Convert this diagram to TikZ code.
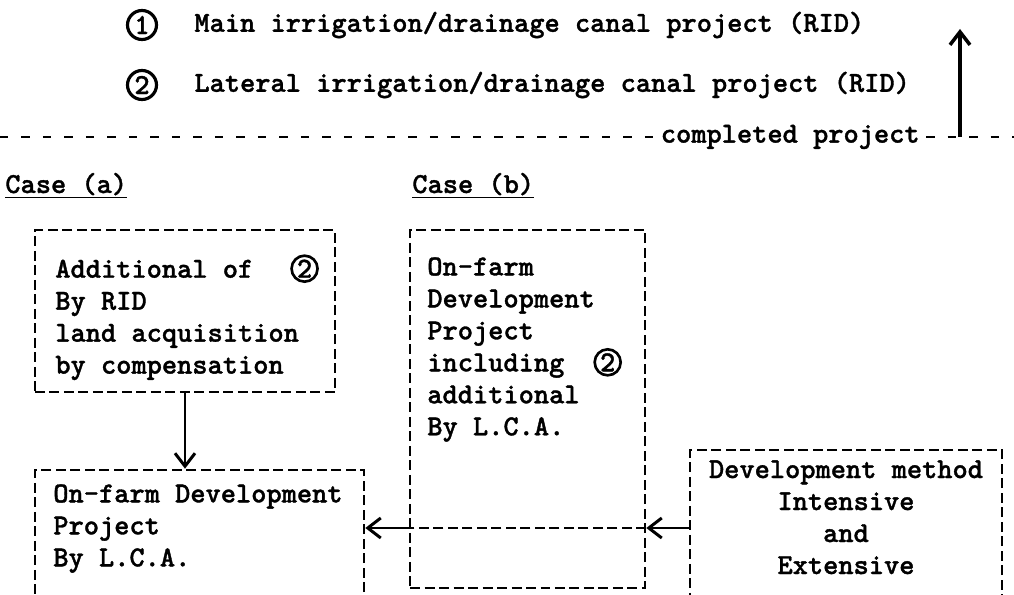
\documentclass[tikz,border=0pt]{standalone}
\usepackage{fontspec}
\newfontfamily\typefont{lmmonolt10-bold.otf}[FakeBold=1.2]
\usetikzlibrary{positioning,calc,arrows.meta}

\tikzset{
  typewriter/.style={inner sep=0pt, align=left, font=\typefont\fontsize{16.5}{18.2}\selectfont},
  dashbox/.style={draw, rectangle, line width=1.5pt, dash pattern=on 0.2cm off 0.09cm, inner sep=0pt},
  dashrule/.style={line width=1.5pt, dash pattern=on 0.2cm off 0.09cm},
  sepline/.style={line width=1.6pt, dash pattern=on 0.17cm off 0.26cm},
  flowarrow/.style={-{Straight Barb[length=2.6mm,width=4mm]}, line width=1.7pt},
  numring/.style={draw, circle, line width=1.8pt, inner sep=0pt, minimum size=0.58cm, font=\typefont\fontsize{16.5}{18.2}\selectfont},
}
\newcommand{\circnum}[1]{\tikz[baseline=(cn.base)]\node[draw, solid, circle, line width=1.5pt, inner sep=0pt, minimum size=0.52cm] (cn) {#1};}

\begin{document}
\begin{tikzpicture}
    \useasboundingbox (0,0) rectangle (20.28,-11.9);
    \clip (0,0) rectangle (20.28,-11.9);

    % Legend
    \node[numring] (num1) at (2.84,-0.5) {1};
    \node[typewriter, right=0.72cm of num1] (mainline) {Main irrigation/drainage canal project (RID)};
    \node[numring] (num2) at (2.84,-1.7) {2};
    \node[typewriter, right=0.72cm of num2] (lateral) {Lateral irrigation/drainage canal project (RID)};

    % Completed project line
    \coordinate (sepL) at (0,-2.74);
    \coordinate (sepR) at (20.28,-2.74);
    \node[typewriter, inner xsep=0.12cm, anchor=east] (done) at (18.52,-2.74) {completed project};
    \draw[sepline] (sepL) -- (done.west);
    \draw[sepline] (done.east) -- (sepR);
    \coordinate (rise) at (19.2,-2.74);
    \coordinate (risetop) at (19.2,-0.58);
    \draw[flowarrow, line width=2pt] (rise) -- (risetop);

    % Cases
    \node[typewriter, anchor=base west] (casea) at (0.1,-3.86) {\underline{Case (a)}};
    \node[typewriter, anchor=base west] (caseb) at (8.24,-3.86) {\underline{Case (b)}};

    % Case (a) boxes
    \node[dashbox, minimum width=6cm, minimum height=3.24cm] (boxA) at (3.7,-6.22) {};
    \node[typewriter, anchor=north west] (boxAtext) at (1.1,-5.08) {Additional of\hspace{0.74cm}\circnum{2}\\By RID\\land acquisition\\by compensation};

    \node[dashbox, minimum width=6.58cm, minimum height=3.4cm] (boxC) at (3.99,-11.1) {};
    \node[typewriter, anchor=north west] (boxCtext) at (1.06,-9.68) {On-farm Development\\Project\\By L.C.A.};

    % Case (b) box
    \node[dashbox, minimum width=4.7cm, minimum height=7.16cm] (boxB) at (10.55,-8.18) {};
    \node[typewriter, anchor=north west] (boxBtext) at (8.54,-5.14) {On-farm\\Development\\Project\\including\hspace{0.58cm}\circnum{2}\\additional\\By L.C.A.};

    % Method box
    \node[dashbox, minimum width=6.24cm, minimum height=3.8cm] (boxD) at (16.92,-10.9) {};
    \node[typewriter, align=center, anchor=north] (boxDtext) at (16.92,-9.2) {Development method\\Intensive\\and\\Extensive};

    % Arrows
    \coordinate (flow) at (0,-10.56);
    \draw[flowarrow] (boxA.south) -- (boxA.south |- boxC.north);
    \draw[flowarrow] (boxD.west |- flow) -- (boxB.east |- flow);
    \draw[dashrule] (boxB.east |- flow) -- (boxB.west |- flow);
    \draw[flowarrow] (boxB.west |- flow) -- (boxC.east |- flow);

\end{tikzpicture}
\end{document}
